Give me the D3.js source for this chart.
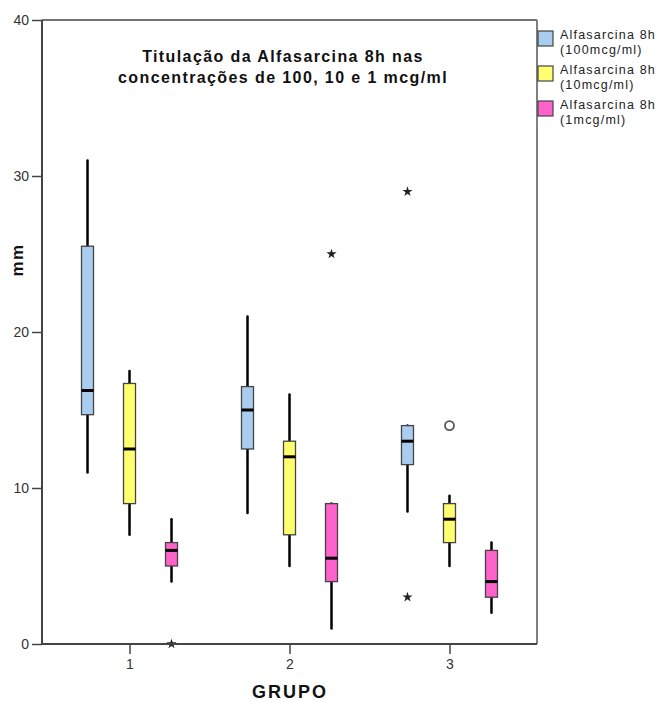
<!DOCTYPE html>
<html>
<head>
<meta charset="utf-8">
<script src="https://cdn.jsdelivr.net/npm/d3@7"></script>
<style>
  html, body { margin: 0; padding: 0; background: #fff; }
  svg { display: block; font-family: Arial, "Liberation Sans", sans-serif; }
</style>
</head>
<body>
<svg id="chart" width="662" height="702"></svg>
<script>
// ---- data ----
const groups = ["1", "2", "3"];
const seriesNames = ["Alfasarcina 8h (100mcg/ml)", "Alfasarcina 8h (10mcg/ml)", "Alfasarcina 8h (1mcg/ml)"];
const legendLine1 = ["Alfasarcina 8h", "Alfasarcina 8h", "Alfasarcina 8h"];
const legendLine2 = ["(100mcg/ml)", "(10mcg/ml)", "(1mcg/ml)"];
const seriesColors = ["#a9cdee", "#ffff70", "#ff62cb"];

// box statistics per series, one value per group
const blueLow = [11, 8.4, 8.5],  blueQ1 = [14.7, 12.5, 11.5], blueMed = [16.25, 15, 13], blueQ3 = [25.5, 16.5, 14], blueHigh = [31, 21, 14];
const yellowLow = [7, 5, 5],     yellowQ1 = [9, 7, 6.5],      yellowMed = [12.5, 12, 8],  yellowQ3 = [16.7, 13, 9],  yellowHigh = [17.5, 16, 9.5];
const pinkLow = [4, 1, 2],       pinkQ1 = [5, 4, 3],          pinkMed = [6, 5.5, 4],      pinkQ3 = [6.5, 9, 6],     pinkHigh = [8, 9, 6.5];

// outliers: group, series index, value, type
const outlierGroup  = ["1", "2", "3", "3", "3"];
const outlierSeries = [2, 2, 0, 0, 1];
const outlierValue  = [0, 25, 29, 3, 14];
const outlierType   = ["extreme", "extreme", "extreme", "extreme", "outlier"];

const yTicks = [0, 10, 20, 30, 40];
const titleLines = ["Titulação da Alfasarcina 8h nas", "concentrações de 100, 10 e 1 mcg/ml"];
const xTitle = "GRUPO";
const yTitle = "mm";

// ---- build ----
const stats = [
  {low: blueLow, q1: blueQ1, med: blueMed, q3: blueQ3, high: blueHigh},
  {low: yellowLow, q1: yellowQ1, med: yellowMed, q3: yellowQ3, high: yellowHigh},
  {low: pinkLow, q1: pinkQ1, med: pinkMed, q3: pinkQ3, high: pinkHigh}
];
const boxes = [];
stats.forEach((s, si) => groups.forEach((g, gi) => boxes.push({
  g, si, low: s.low[gi], q1: s.q1[gi], med: s.med[gi], q3: s.q3[gi], high: s.high[gi]
})));
const outliers = outlierValue.map((v, i) => ({g: outlierGroup[i], si: outlierSeries[i], v, type: outlierType[i]}));

const L = 42, R = 537, T = 20, B = 644;
const svg = d3.select("#chart");

const y = d3.scaleLinear().domain([0, 40]).range([B, T]);
const x = d3.scalePoint().domain(groups).range([L, R]).padding(0.547);
const xs = d3.scaleBand().domain(d3.range(seriesNames.length)).range([-63, 63]);
const boxW = 12;
const cx = d => x(d.g) + xs(d.si) + xs.bandwidth() / 2;

// frame top and right
svg.append("line").attr("x1", L).attr("x2", R).attr("y1", T).attr("y2", T)
  .attr("stroke", "#444").attr("stroke-width", 1.5);
svg.append("line").attr("x1", R).attr("x2", R).attr("y1", T).attr("y2", B)
  .attr("stroke", "#808080").attr("stroke-width", 2);

// title
const title = svg.append("text").attr("text-anchor", "middle")
  .attr("font-weight", "bold").attr("font-size", 16).attr("fill", "#111");
title.selectAll("tspan").data(titleLines).join("tspan")
  .attr("x", 283).attr("y", (d, i) => 62 + i * 21)
  .attr("letter-spacing", 1.4)
  .text(d => d);

// boxes
const bx = svg.append("g");
const bg = bx.selectAll("g.box").data(boxes).join("g").attr("class", "box");
bg.append("line")
  .attr("x1", cx).attr("x2", cx)
  .attr("y1", d => y(d.high)).attr("y2", d => y(d.low))
  .attr("stroke", "#000").attr("stroke-width", 2.5).attr("stroke-linecap", "round");
bg.append("rect")
  .attr("x", d => cx(d) - boxW / 2).attr("width", boxW)
  .attr("y", d => y(d.q3)).attr("height", d => y(d.q1) - y(d.q3))
  .attr("fill", d => seriesColors[d.si]).attr("stroke", "#444").attr("stroke-width", 1.3);
bg.append("line")
  .attr("x1", d => cx(d) - boxW / 2).attr("x2", d => cx(d) + boxW / 2)
  .attr("y1", d => y(d.med)).attr("y2", d => y(d.med))
  .attr("stroke", "#000").attr("stroke-width", 3);

// outliers
const og = svg.append("g");
og.selectAll("path.ext").data(outliers.filter(d => d.type === "extreme")).join("path")
  .attr("class", "ext")
  .attr("d", d3.symbol().type(d3.symbolStar).size(32))
  .attr("transform", d => `translate(${cx(d)},${y(d.v)})`)
  .attr("fill", "#222");
og.selectAll("circle.out").data(outliers.filter(d => d.type === "outlier")).join("circle")
  .attr("class", "out")
  .attr("cx", cx).attr("cy", d => y(d.v)).attr("r", 4.5)
  .attr("fill", "#fff").attr("stroke", "#555").attr("stroke-width", 1.8);

// axes
const yAxis = svg.append("g").attr("transform", `translate(${L},0)`)
  .call(d3.axisLeft(y).tickValues(yTicks).tickSize(10).tickPadding(3));
const xAxis = svg.append("g").attr("transform", `translate(0,${B})`)
  .call(d3.axisBottom(x).tickSize(10).tickPadding(5).tickSizeOuter(0));
[yAxis, xAxis].forEach(a => {
  a.select(".domain").attr("stroke", "#444").attr("stroke-width", 2);
  a.selectAll(".tick line").attr("stroke", "#444").attr("stroke-width", 1.5);
  a.selectAll(".tick text").attr("font-size", 14).attr("fill", "#333")
    .attr("font-family", "Arial, 'Liberation Sans', sans-serif");
});
xAxis.select(".domain").attr("d", `M${L},0H${R}`);
yAxis.select(".domain").attr("d", `M0,${B}V${T}`);

// axis titles
svg.append("text").attr("x", 290).attr("y", 698).attr("text-anchor", "middle")
  .attr("font-weight", "bold").attr("font-size", 18).attr("letter-spacing", 2)
  .attr("fill", "#111").text(xTitle);
svg.append("text").attr("transform", "translate(23,260) rotate(-90)")
  .attr("text-anchor", "middle").attr("font-weight", "bold").attr("font-size", 17)
  .attr("letter-spacing", 1.5).attr("fill", "#111").text(yTitle);

// legend
const lg = svg.append("g").selectAll("g").data(seriesNames).join("g")
  .attr("transform", (d, i) => `translate(538,${31 + i * 35})`);
lg.append("rect").attr("width", 15).attr("height", 15)
  .attr("fill", (d, i) => seriesColors[i]).attr("stroke", "#444").attr("stroke-width", 1.2);
lg.append("text").attr("x", 22).attr("y", 8).attr("font-size", 12.5)
  .attr("letter-spacing", 1.2).attr("fill", "#222").text((d, i) => legendLine1[i]);
lg.append("text").attr("x", 22).attr("y", 22.5).attr("font-size", 12.5)
  .attr("letter-spacing", 1.2).attr("fill", "#222").text((d, i) => legendLine2[i]);
</script>
</body>
</html>
